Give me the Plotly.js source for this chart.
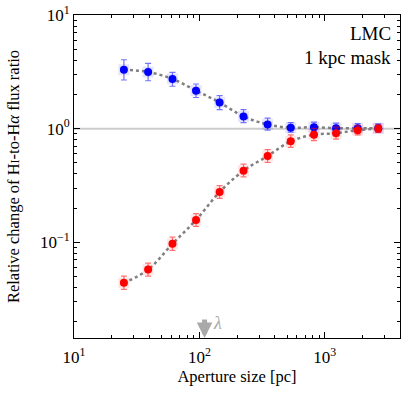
<!DOCTYPE html>
<html>
<head>
<meta charset="utf-8">
<script src="https://cdn.plot.ly/plotly-3.0.1.min.js"></script>
<style>
  body { margin: 0; background: #fff; }
  #graph { width: 415px; height: 397px; }
</style>
</head>
<body>
<div id="graph"></div>
<script>
// aperture sizes in pc
const aperture = [25, 39, 61, 94, 145, 225, 350, 535, 820, 1230, 1830, 2670];

// blue series (upper branch)
const blueY = [3.30, 3.15, 2.74, 2.16, 1.70, 1.28, 1.09, 1.02, 1.03, 1.01, 1.01, 1.01];
const blueErrUp = [0.74, 0.60, 0.39, 0.31, 0.25, 0.19, 0.15, 0.11, 0.11, 0.11, 0.10, 0.09];
const blueErrDown = [0.62, 0.51, 0.38, 0.28, 0.23, 0.15, 0.12, 0.09, 0.09, 0.09, 0.08, 0.08];

// red series (lower branch)
const redY = [0.044, 0.0575, 0.097, 0.157, 0.277, 0.427, 0.575, 0.773, 0.885, 0.91, 0.97, 1.0];
const redErrUp = [0.0065, 0.008, 0.014, 0.022, 0.038, 0.06, 0.08, 0.11, 0.12, 0.12, 0.10, 0.08];
const redErrDown = [0.0055, 0.007, 0.012, 0.019, 0.033, 0.05, 0.07, 0.09, 0.10, 0.10, 0.09, 0.07];

// reference line at ratio 1, across the full x range
const unityX = [10, 3981];
const unityY = [1, 1];

const xTickVals = [10, 100, 1000];
const xTickText = ['10<sup>1</sup>', '10<sup>2</sup>', '10<sup>3</sup>'];
const xMinor = [20, 30, 40, 50, 60, 70, 80, 90, 200, 300, 400, 500, 600, 700, 800, 900, 2000, 3000];
const yTickVals = [0.1, 1, 10];
const yTickText = ['10<sup>−1</sup>', '10<sup>0</sup>', '10<sup>1</sup>'];
const yMinor = [0.02, 0.03, 0.04, 0.05, 0.06, 0.07, 0.08, 0.09, 0.2, 0.3, 0.4, 0.5, 0.6, 0.7, 0.8, 0.9,
                2, 3, 4, 5, 6, 7, 8, 9];

const serif = 'Liberation Serif, DejaVu Serif, serif';

let unity = {
    x: unityX, y: unityY, mode: 'lines', hoverinfo: 'skip',
    line: { color: '#cccccc', width: 2 }
};
let blueCurve = {
    x: aperture, y: blueY, mode: 'lines',
    line: { color: '#808080', width: 2.5, dash: 'dot', shape: 'spline' }
};
let redCurve = {
    x: aperture, y: redY, mode: 'lines',
    line: { color: '#808080', width: 2.5, dash: 'dot', shape: 'spline' }
};
let blueHalo = {
    x: aperture, y: blueY, mode: 'markers',
    marker: { symbol: 'square', size: 11, color: 'rgba(0,0,255,0.1)' }
};
let redHalo = {
    x: aperture, y: redY, mode: 'markers',
    marker: { symbol: 'square', size: 11, color: 'rgba(255,0,0,0.1)' }
};
let bluePts = {
    x: aperture, y: blueY, mode: 'markers',
    marker: { color: '#0000ff', size: 8 },
    error_y: {
        type: 'data', symmetric: false, array: blueErrUp, arrayminus: blueErrDown,
        color: 'rgba(0,0,255,0.55)', thickness: 1.2, width: 3
    }
};
let redPts = {
    x: aperture, y: redY, mode: 'markers',
    marker: { color: '#ff0000', size: 8 },
    error_y: {
        type: 'data', symmetric: false, array: redErrUp, arrayminus: redErrDown,
        color: 'rgba(255,0,0,0.55)', thickness: 1.2, width: 3
    }
};

let axisCommon = {
    type: 'log',
    showgrid: false,
    zeroline: false,
    showline: true,
    linecolor: '#000',
    linewidth: 1,
    mirror: 'allticks',
    ticks: 'inside',
    ticklen: 6,
    tickcolor: '#000',
    tickmode: 'array',
    tickfont: { family: serif, size: 17, color: '#000' }
};

let layout = {
    width: 415,
    height: 397,
    margin: { l: 74, r: 15, t: 15, b: 59 },
    paper_bgcolor: '#fff',
    plot_bgcolor: '#fff',
    showlegend: false,
    xaxis: Object.assign({}, axisCommon, {
        range: [1, 3.6],
        tickvals: xTickVals,
        ticktext: xTickText,
        ticklabelstandoff: 4,
        minor: { tickmode: 'array', tickvals: xMinor, ticks: 'inside', ticklen: 3, tickcolor: '#000', showgrid: false },
        title: { text: 'Aperture size [pc]', font: { family: serif, size: 16.5, color: '#000' }, standoff: 4 }
    }),
    yaxis: Object.assign({}, axisCommon, {
        range: [-1.842, 1],
        tickvals: yTickVals,
        ticktext: yTickText,
        minor: { tickmode: 'array', tickvals: yMinor, ticks: 'inside', ticklen: 3, tickcolor: '#000', showgrid: false },
        title: {
            text: 'Relative change of H<span style="font-size:12px">I</span>-to-H<i>α</i> flux ratio',
            font: { family: serif, size: 16.5, color: '#000' }, standoff: 16
        }
    }),
    annotations: [
        { xref: 'paper', yref: 'paper', x: 0.98, y: 0.944, xanchor: 'right', yanchor: 'middle',
          text: 'LMC', showarrow: false, font: { family: serif, size: 19, color: '#000' } },
        { xref: 'paper', yref: 'paper', x: 0.98, y: 0.867, xanchor: 'right', yanchor: 'middle',
          text: '1 kpc mask', showarrow: false, font: { family: serif, size: 19, color: '#000' } },
        { xref: 'x', yref: 'paper', x: Math.log10(110), y: 0, ax: 0, ay: -20, text: '',
          showarrow: true, arrowhead: 2, arrowsize: 0.62, arrowwidth: 5, arrowcolor: '#a9a9a9', standoff: 0 },
        { xref: 'x', yref: 'paper', x: Math.log10(110), y: 0.045, xanchor: 'left', xshift: 6, yanchor: 'middle',
          text: '<i>λ</i>', showarrow: false, font: { family: serif, size: 18, color: '#a9a9a9' } }
    ]
};

const data = [unity, blueCurve, redCurve, blueHalo, redHalo, bluePts, redPts];
Plotly.newPlot('graph', data, layout, { staticPlot: true });
</script>
</body>
</html>
